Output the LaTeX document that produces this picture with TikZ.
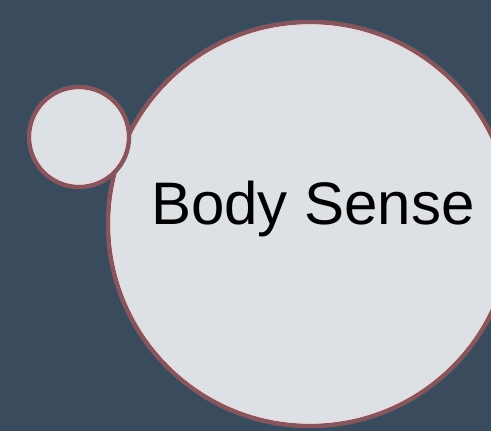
\documentclass[tikz,border=0pt]{standalone}
\usepackage{fontspec}
\setmainfont{Liberation Sans}
\definecolor{slate}{HTML}{3A4B5D}
\definecolor{bubblefill}{HTML}{DDE1E5}
\definecolor{rim}{HTML}{86565E}
\definecolor{innerrim}{HTML}{EED6DA}
\begin{document}
\begin{tikzpicture}[
    x=1pt, y=-1pt,
    bubble/.style={circle, draw=rim, fill=bubblefill, line width=4.5pt, inner sep=0pt},
    glow/.style={draw=innerrim, line width=1.2pt},
    caption/.style={font=\fontsize{60}{70}\selectfont, text=black, anchor=base},
  ]
    % Hintergrund
    \useasboundingbox (0,0) rectangle (491,431);
    \fill[slate] (0,0) rectangle (491,431);

    % Grosse Blase
    \node[bubble, minimum size=404pt] (body) at (310,224) {};
    \draw[glow] (body.center) circle[radius=199pt];
    \node[caption] (bodytext) at (313,224) {Body Sense};

    % Kleine Blase
    \node[bubble, minimum size=100pt] (bud) at (79,137) {};
    \draw[glow] (bud.center) circle[radius=47pt];
  \end{tikzpicture}
\end{document}
